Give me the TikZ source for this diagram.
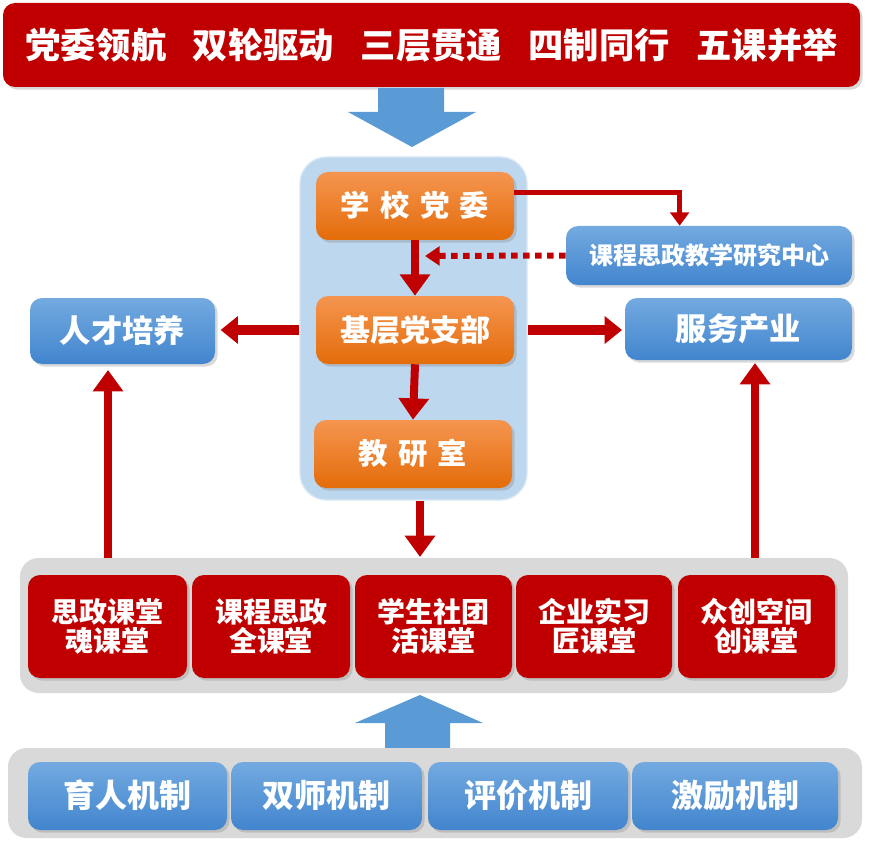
\documentclass[tikz,border=0pt]{standalone}
\usepackage{fontspec}
\setmainfont{Noto Sans CJK SC}
\usetikzlibrary{fit,shadows,arrows.meta}
\definecolor{cRed}{HTML}{C00000}
\definecolor{cOrTop}{HTML}{F59550}
\definecolor{cOrBot}{HTML}{E46C0A}
\definecolor{cBlTop}{HTML}{73AAE0}
\definecolor{cBlBot}{HTML}{4285CE}
\definecolor{cCont}{HTML}{BDD7EE}
\definecolor{cGray}{HTML}{D9D9D9}
\definecolor{cArr}{HTML}{5B9BD5}
\newcommand{\fs}[1]{\fontsize{#1pt}{1.05\dimexpr#1pt\relax}\selectfont\bfseries}
\newcommand{\ct}[1]{\raisebox{-0.62em}[0.5em][0.5em]{#1}}
\begin{document}
\begin{tikzpicture}[x=0.75pt,y=-0.75pt,
  box/.style={rounded corners=9pt, inner sep=0pt, text=white, align=center,
    drop shadow={opacity=0.3,shadow xshift=2pt,shadow yshift=-2pt}},
  redbox/.style={box, fill=cRed},
  orangebox/.style={box, top color=cOrTop, bottom color=cOrBot},
  bluebox/.style={box, top color=cBlTop, bottom color=cBlBot},
  band/.style={rounded corners=14pt, fill=cGray, inner sep=0pt},
  redarrow/.style={draw=cRed, line width=6pt, -{Triangle[length=16pt,width=22pt]}},
  redharrow/.style={draw=cRed, line width=7.5pt, -{Triangle[length=13pt,width=20pt]}},
  blockarrow/.style={fill=cArr}
]
\useasboundingbox (0,0) rectangle (869,842);

% top banner
\node[redbox, fit={(3,3)(860,87)}, font=\fs{26.5}] (banner)
  {\ct{党委领航\hspace{0.75em}双轮驱动\hspace{0.75em}三层贯通\hspace{0.75em}四制同行\hspace{0.75em}五课并举}};

% down block arrow
\fill[blockarrow] (378,88) -- (444,88) -- (444,112) -- (476,112) -- (412,147) -- (348,112) -- (378,112) -- cycle;

% band for the courses
\node[band, fit={(20,558)(848,693)}] (band1) {};

% container
\node[fill=cCont, draw=cCont!60!white, line width=1pt, rounded corners=20pt, inner sep=0pt, fit={(300,157)(527,500)}] (cont) {};

% orange boxes
\node[orangebox, fit={(316,172)(514,240)}, font=\fs{22}] (dw) {\ct{学\hspace{0.35em}校\hspace{0.35em}党\hspace{0.35em}委}};
\node[orangebox, fit={(316,296)(514,364)}, font=\fs{22.5}] (zb) {\ct{基层党支部}};
\node[orangebox, fit={(314,420)(512,488)}, font=\fs{22}] (jy) {\ct{教\hspace{0.35em}研\hspace{0.35em}室}};

% blue side boxes
\node[bluebox, fit={(566,226)(852,285)}, font=\fs{18}] (zx) {\ct{课程思政教学研究中心}};
\node[bluebox, fit={(625,298)(852,360)}, font=\fs{23.5}] (fw) {\ct{服务产业}};
\node[bluebox, fit={(30,298)(215,364)}, font=\fs{23.5}] (rc) {\ct{人才培养}};

% red course boxes
\node[redbox, fit={(28,575)(187,678)}, font=\fs{21}] (k1) {\ct{思政课堂}\\\ct{魂课堂}};
\node[redbox, fit={(192,575)(350,678)}, font=\fs{21}] (k2) {\ct{课程思政}\\\ct{全课堂}};
\node[redbox, fit={(355,575)(512,678)}, font=\fs{21}] (k3) {\ct{学生社团}\\\ct{活课堂}};
\node[redbox, fit={(516,575)(672,678)}, font=\fs{21}] (k4) {\ct{企业实习}\\\ct{匠课堂}};
\node[redbox, fit={(678,575)(835,678)}, font=\fs{21}] (k5) {\ct{众创空间}\\\ct{创课堂}};

% up block arrow
\fill[blockarrow] (385,750) -- (450,750) -- (450,723) -- (483,723) -- (420,695) -- (355,723) -- (385,723) -- cycle;

% band for the mechanisms
\node[band, fit={(8,748)(862,838)}] (band2) {};
\node[bluebox, fit={(28,762)(227,830)}, font=\fs{24}] (m1) {\ct{育人机制}};
\node[bluebox, fit={(231,762)(422,830)}, font=\fs{24}] (m2) {\ct{双师机制}};
\node[bluebox, fit={(428,762)(628,830)}, font=\fs{24}] (m3) {\ct{评价机制}};
\node[bluebox, fit={(632,762)(838,830)}, font=\fs{24}] (m4) {\ct{激励机制}};

% connectors
\draw[redarrow] (dw.south) -- (zb.north);
\draw[redarrow] (zb.south) -- (jy.north);
\coordinate (bandtop) at (420,557);
\draw[redarrow] (cont.south -| bandtop) -- (bandtop);
\draw[draw=cRed, line width=4pt, -{Triangle[length=10pt,width=14pt]}]
  ([yshift=10pt]dw.east) -| ([xshift=-22pt]zx.north);
\coordinate (dotend) at (425,256);
\draw[draw=cRed, line width=4.5pt, dash pattern=on 5pt off 4pt, -{Triangle[length=11pt,width=14pt]}]
  (zx.west) -- (dotend);
\draw[redharrow] (cont.west |- zb.center) -- ([xshift=4pt]rc.east |- zb.center);
\draw[redharrow] (cont.east |- zb.center) -- ([xshift=-2pt]fw.west |- zb.center);
\coordinate (l1) at (108,558);
\coordinate (l2) at (108,370);
\coordinate (r1) at (755,558);
\coordinate (r2) at (755,363);
\draw[redarrow] (l1) -- (l2);
\draw[redarrow] (r1) -- (r2);
\end{tikzpicture}
\end{document}
